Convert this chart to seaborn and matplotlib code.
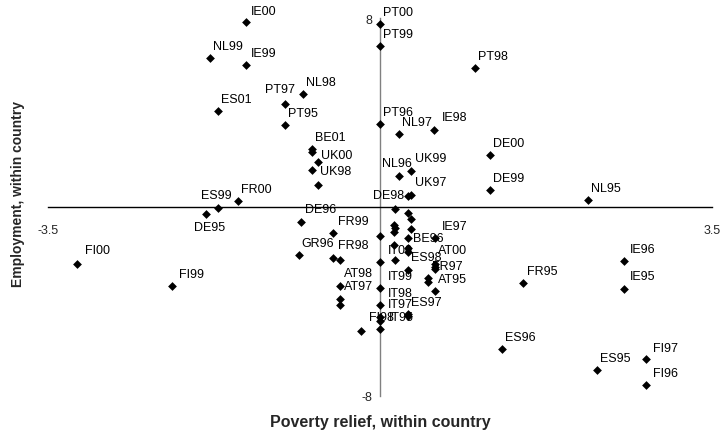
import numpy as np
import pandas as pd
import matplotlib
matplotlib.use("Agg")
import matplotlib.pyplot as plt
import seaborn as sns

sns.set_style("white")
plt.rcParams["font.family"] = ["Liberation Sans", "DejaVu Sans"]
plt.rcParams["axes.unicode_minus"] = False

# country-year labels, "" = point without a label
labels = [
    "IE00", "NL99", "IE99", "NL98", "PT97", "ES01", "PT95", "BE01", "", "UK00",
    "UK98", "", "FR00", "ES99", "DE95", "DE96", "FR99", "GR96", "FR98", "",
    "AT98", "AT97", "", "FI00", "FI99", "PT00", "PT99", "PT98", "PT96", "NL97",
    "IE98", "DE00", "DE99", "NL95", "NL96", "UK99", "DE98", "UK97", "", "",
    "", "", "", "", "", "", "BE96", "IE97", "IT00", "",
    "ES98", "", "", "AT00", "", "FR97", "", "", "", "IT99",
    "AT95", "IT98", "ES97", "", "IT97", "IT95", "FI98", "", "FR95", "IE96",
    "IE95", "ES96", "ES95", "FI97", "FI96",
]
poverty_relief = [
    -1.42, -1.80, -1.42, -0.81, -1.00, -1.71, -1.00, -0.72, -0.72, -0.66,
    -0.72, -0.66, -1.50, -1.71, -1.84, -0.84, -0.50, -0.86, -0.50, -0.43,
    -0.43, -0.43, -0.43, -3.20, -2.20, 0.0, 0.0, 1.00, 0.0, 0.20,
    0.57, 1.16, 1.16, 2.19, 0.20, 0.32, 0.29, 0.32, 0.16, 0.29,
    0.32, 0.14, 0.15, 0.14, 0.32, 0.0, 0.29, 0.58, 0.14, 0.29,
    0.29, 0.15, 0.0, 0.58, 0.58, 0.58, 0.29, 0.50, 0.50, 0.0,
    0.58, 0.0, 0.29, 0.29, 0.0, 0.0, 0.0, -0.20, 1.50, 2.57,
    2.57, 1.28, 2.28, 2.80, 2.80,
]
employment = [
    7.85, 6.30, 5.99, 4.80, 4.35, 4.08, 3.46, 2.44, 2.34, 1.91,
    1.55, 0.92, 0.25, -0.04, -0.31, -0.62, -1.09, -2.02, -2.16, -2.26,
    -3.36, -3.92, -4.14, -2.44, -3.36, 7.74, 6.82, 5.89, 3.52, 3.09,
    3.25, 2.19, 0.70, 0.31, 1.30, 1.51, 0.45, 0.52, -0.10, -0.25,
    -0.53, -0.75, -0.89, -1.06, -0.92, -1.23, -1.30, -1.34, -1.60, -1.74,
    -1.91, -2.26, -2.33, -2.40, -2.54, -2.64, -2.66, -3.01, -3.18, -3.42,
    -3.56, -4.14, -4.52, -4.62, -4.66, -4.85, -5.16, -5.27, -3.21, -2.29,
    -3.47, -6.00, -6.92, -6.46, -7.53,
]

df = pd.DataFrame({"label": labels, "poverty": poverty_relief, "employment": employment})

# label placement (pixels right, pixels up) from the marker; default is above-right
default_offset = (3, 12)
label_offsets = {
    "IE00": (5, 11), "IE99": (5, 12), "PT97": (-20, 15), "UK00": (3, 7),
    "UK98": (8, -1), "ES99": (-17, 13), "DE95": (-12, -13), "DE96": (4, 13),
    "FR99": (5, 12), "FR98": (5, 13), "AT98": (4, 13), "AT97": (4, 13),
    "FI00": (8, 14), "FI99": (7, 12), "IE98": (7, 13), "NL96": (-17, 13),
    "UK99": (4, 13), "UK97": (4, 13), "DE98": (-4, 1), "BE96": (5, 0),
    "IE97": (7, 12), "IT00": (-6, -5), "ES98": (3, -5), "AT00": (3, 14),
    "FR97": (-3, 3), "IT99": (8, 12), "IT98": (8, 12), "IT97": (8, 13),
    "IT95": (9, 4), "FI98": (-11, 12), "IE96": (6, 12), "IE95": (6, 13),
    "FI97": (7, 11), "FI96": (7, 12), "FR95": (4, 12),
}
right_aligned = ["DE98"]

fig = plt.figure(figsize=(7.22, 4.35), dpi=100)
ax = fig.add_axes([0.0669, 0.088, 0.9197, 0.8683])

sns.scatterplot(data=df, x="poverty", y="employment", marker="D", color="black",
                s=20, linewidth=0, ax=ax, zorder=3)

for _, row in df.iterrows():
    if row["label"] == "":
        continue
    off = label_offsets.get(row["label"], default_offset)
    ha = "right" if row["label"] in right_aligned else "left"
    ax.annotate(row["label"], (row["poverty"], row["employment"]), xytext=off,
                textcoords="offset pixels", ha=ha, va="center", fontsize=9,
                color="black", zorder=2.8)

ax.set_xlim(-3.5, 3.5)
ax.set_ylim(-8, 8)
ax.spines["left"].set_position("zero")
ax.spines["bottom"].set_position("zero")
ax.spines["top"].set_visible(False)
ax.spines["right"].set_visible(False)
ax.spines["left"].set_color("#808080")
ax.spines["bottom"].set_color("black")
ax.spines["left"].set_linewidth(1)
ax.spines["bottom"].set_linewidth(1)

ax.set_xticks([-3.5, 3.5])
ax.set_xticklabels(["-3.5", "3.5"])
ax.set_yticks([-8, 8])
ax.set_yticklabels(["-8", "8"])
ax.tick_params(axis="x", direction="out", length=4, pad=8, labelsize=9, color="black")
ax.tick_params(axis="y", direction="out", length=3, pad=3, labelsize=9, color="#808080")
ax.set_xlabel("")
ax.set_ylabel("")

fig.text(380 / 722, 1 - 423 / 435, "Poverty relief, within country", ha="center",
         va="center", fontsize=11.5, fontweight="bold")
fig.text(18 / 722, 1 - 194 / 435, "Employment, within country", ha="center",
         va="center", rotation=90, fontsize=10, fontweight="bold")

fig.savefig("out.png", dpi=100)
